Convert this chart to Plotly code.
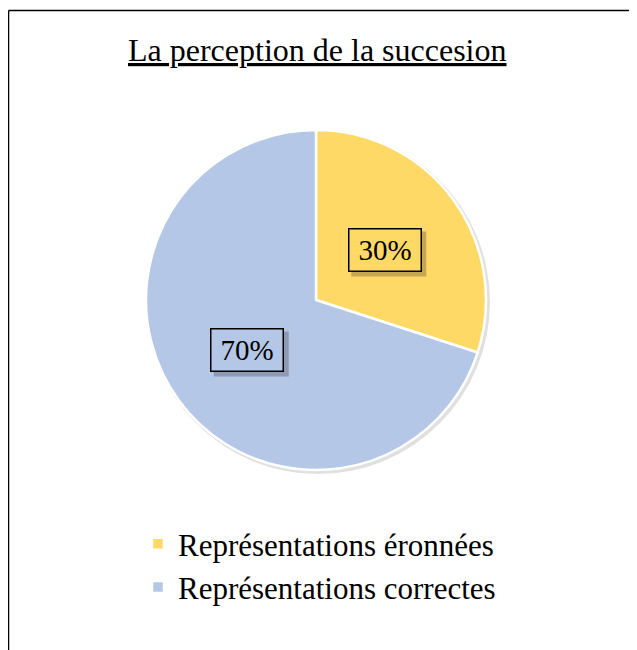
import math
import plotly.graph_objects as go

categories = ["Représentations éronnées", "Représentations correctes"]
values = [30, 70]
colors = ["#FFD966", "#B4C7E7"]
title_text = "La perception de la succesion"

OFF = 8
W, H = 637 - OFF, 650 - OFF
cx, cy, r = 316, 300, 170
SERIF = "Liberation Serif, Times New Roman, Times, serif"

def px(x):
    return (x - OFF) / W

def py(y):
    return 1 - (y - OFF) / H

fig = go.Figure()
fig.add_trace(go.Pie(
    labels=categories,
    values=values,
    sort=False,
    direction="clockwise",
    rotation=0,
    marker=dict(colors=colors, line=dict(color="white", width=2.5)),
    textinfo="none",
    hoverinfo="label+percent",
    domain=dict(x=[px(cx - r), px(cx + r)], y=[py(cy + r), py(cy - r)]),
))

shapes = [
    dict(type="circle", xref="paper", yref="paper", layer="below",
         x0=px(cx - r), x1=px(cx + r + 4), y0=py(cy + r + 4), y1=py(cy - r),
         fillcolor="rgba(0,0,0,0.12)", line=dict(width=0)),
]

total = sum(values)
annotations = []
bw, bh = 75, 45
cum = 0
for v, c in zip(values, colors):
    mid = (cum + v / 2) / total * 2 * math.pi
    cum += v
    lx = cx + 0.5 * r * math.sin(mid)
    ly = cy - 0.5 * r * math.cos(mid)
    label = f"{round(v / total * 100)}%"
    shapes.append(dict(
        type="rect", xref="paper", yref="paper", layer="above",
        x0=px(lx - bw / 2 + 4), x1=px(lx + bw / 2 + 4),
        y0=py(ly + bh / 2 + 4), y1=py(ly - bh / 2 + 4),
        fillcolor="rgba(40,40,40,0.28)", line=dict(width=0),
    ))
    annotations.append(dict(
        x=px(lx), y=py(ly), xref="paper", yref="paper", showarrow=False,
        text=label, font=dict(family=SERIF, size=29, color="black"),
        width=bw - 8, height=bh - 8, align="center", valign="middle",
        bgcolor=c, bordercolor="black", borderwidth=1.5, borderpad=2,
    ))

annotations.append(dict(
    x=px(317), y=py(50), xref="paper", yref="paper", showarrow=False,
    text="<u>" + title_text + "</u>", font=dict(family=SERIF, size=32, color="black"),
    xanchor="center", yanchor="middle",
))

shapes += [
    dict(type="line", xref="paper", yref="paper", x0=px(8.5), x1=px(8.5), y0=py(10.5), y1=-0.05,
         line=dict(color="black", width=1.5)),
    dict(type="line", xref="paper", yref="paper", x0=px(8.5), x1=1.05, y0=py(10.5), y1=py(10.5),
         line=dict(color="black", width=1.5)),
]

fig.update_layout(
    width=W, height=H,
    margin=dict(l=0, r=0, t=0, b=0),
    paper_bgcolor="white", plot_bgcolor="white",
    showlegend=True,
    legend=dict(
        x=px(138), y=py(517), xanchor="left", yanchor="top",
        font=dict(family=SERIF, size=31, color="black"),
        bgcolor="rgba(0,0,0,0)",
    ),
    annotations=annotations,
    shapes=shapes,
)

fig.write_html("out.html")
